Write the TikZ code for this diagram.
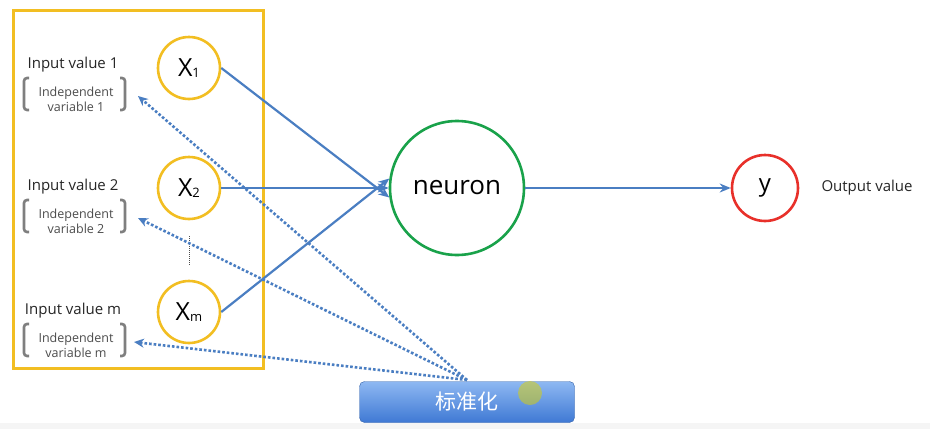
\documentclass[tikz,border=0pt]{standalone}
\usepackage{fontspec}
\setmainfont{Open Sans}
\newfontfamily\cjk{Noto Sans CJK SC}
\usetikzlibrary{arrows.meta}
\definecolor{ybox}{HTML}{F2BE22}
\definecolor{lblue}{HTML}{4A7EC2}
\definecolor{btop}{HTML}{8EB8F2}
\definecolor{bbot}{HTML}{3F79D4}
\definecolor{ngreen}{HTML}{19A24A}
\definecolor{yred}{HTML}{E8302A}
\definecolor{bgray}{HTML}{7F7F7F}
\begin{document}
\begin{tikzpicture}[x=1pt,y=-1pt,
  inp/.style={circle,draw=ybox,line width=2.6pt,minimum size=62pt,inner sep=0pt,font=\fontsize{25}{25}\selectfont},
  lab/.style={font=\fontsize{15}{17}\selectfont,text=black!85},
  ind/.style={font=\fontsize{12.5}{15}\selectfont,text=black!70,align=center},
  sol/.style={draw=lblue,line width=2.2pt,-{Stealth[length=11pt,width=9pt]}},
  dot/.style={draw=lblue,line width=2.6pt,dotted,-{Stealth[length=10pt,width=9pt]}},
  brk/.style={draw=bgray,line width=2.6pt,rounded corners=3pt}]
\useasboundingbox (0,0) rectangle (930,429);
\fill[white] (0,0) rectangle (930,429);
\fill[black!4] (0,423) rectangle (930,429);
\draw[ybox,line width=3pt] (13,10) rectangle (263,368);
\node[inp] (x1) at (189,68) {X\raisebox{-1pt}{\fontsize{13}{13}\selectfont 1}};
\node[inp] (x2) at (189,188) {X\raisebox{-1pt}{\fontsize{13}{13}\selectfont 2}};
\node[inp] (xm) at (189,312) {X\raisebox{-1pt}{\fontsize{13}{13}\selectfont m}};
\draw[black!70,densely dotted,line width=1pt] (189,236) -- (189,266);
\foreach \i/\yy/\t in {1/65/1,2/187/2,3/311/m}{
  \node[lab] (l\i) at (73,\yy) {Input value \t};
  \node[ind] (d\i) at (76,\yy+34) {Independent\\variable \t};
  \draw[brk] (29,\yy+13) -- (24,\yy+13) -- (24,\yy+45) -- (29,\yy+45);
  \draw[brk] (120,\yy+13) -- (125,\yy+13) -- (125,\yy+45) -- (120,\yy+45);
}
\node[circle,draw=ngreen,line width=2.6pt,minimum size=134pt,font=\fontsize{26}{26}\selectfont] (n) at (457,188) {neuron};
\node[circle,draw=yred,line width=2.6pt,minimum size=66pt,font=\fontsize{24}{24}\selectfont] (y) at (765,188) {y};
\node[lab,anchor=west] (out) at (818,188) {Output value};
\draw[sol] (x1.east) -- (n.188);
\draw[sol] (x2.east) -- (n.west);
\draw[sol] (xm.east) -- (n.172);
\draw[sol] (n.east) -- (y.west);
\node[draw=bbot!80!black,rounded corners=5pt,minimum width=215pt,minimum height=41pt,
  top color=btop,bottom color=bbot,
  text=white,font=\cjk\fontsize{21}{21}\selectfont] (b) at (467,402) {标准化};
\coordinate (src) at (467,380);
\coordinate (t1) at (138,96);
\coordinate (t2) at (138,218);
\coordinate (t3) at (134,342);
\draw[dot] (src) -- (t1);
\draw[dot] (src) -- (t2);
\draw[dot] (src) -- (t3);
\fill[yellow!70!olive,opacity=0.5] (530,393) circle (12pt);
\end{tikzpicture}
\end{document}
